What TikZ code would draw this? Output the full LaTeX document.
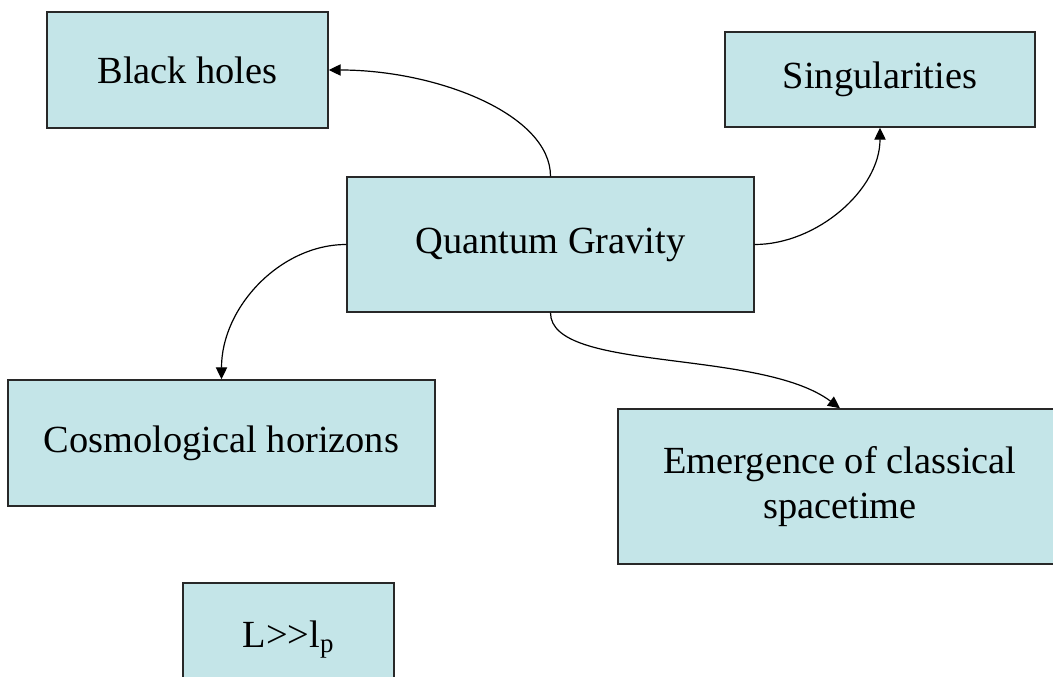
\documentclass[tikz,border=0pt]{standalone}
\usepackage{fontspec}
\setmainfont{Liberation Serif}
\usetikzlibrary{arrows.meta}
\definecolor{boxfill}{RGB}{196,229,232}
\definecolor{boxline}{RGB}{40,40,40}
\tikzset{
  concept/.style={draw=boxline, line width=1.1pt, fill=boxfill, inner sep=0pt,
    align=center, font=\fontsize{28.8}{33.8}\selectfont},
  link/.style={line width=0.9pt, -{Triangle[length=9pt,width=8.5pt]}}
}
\begin{document}
\begin{tikzpicture}[x=0.75pt,y=-0.75pt]
\clip (0,0) rectangle (1053,677);
\fill[white] (0,0) rectangle (1053,677);
\node[concept, minimum width=281*0.75pt, minimum height=116*0.75pt] (bh) at (187.5,70) {Black holes};
\node[concept, minimum width=310*0.75pt, minimum height=95*0.75pt] (sing) at (880,79.5) {Singularities};
\node[concept, minimum width=407*0.75pt, minimum height=135*0.75pt] (qg) at (550.5,244.5) {Quantum Gravity};
\node[concept, minimum width=427*0.75pt, minimum height=126*0.75pt] (cosmo) at (221.5,443) {Cosmological horizons};
\node[concept, minimum width=444*0.75pt, minimum height=155*0.75pt] (emerg) at (840,486.5) {Emergence of classical\\spacetime};
\node[concept, minimum width=211*0.75pt, minimum height=114*0.75pt] (lp) at (288.5,640) {L>\kern0pt>l\textsubscript{p}};
\draw[link] (qg.north) .. controls +(0,-62) and +(108,0) .. (bh.east);
\draw[link] (qg.east) .. controls +(62,0) and +(0,62) .. (sing.south);
\draw[link] (qg.west) .. controls +(-66,0) and +(0,-72) .. (cosmo.north);
\draw[link] (qg.south) .. controls +(0,60) and +(-80,-60) .. (emerg.north);
\end{tikzpicture}
\end{document}
